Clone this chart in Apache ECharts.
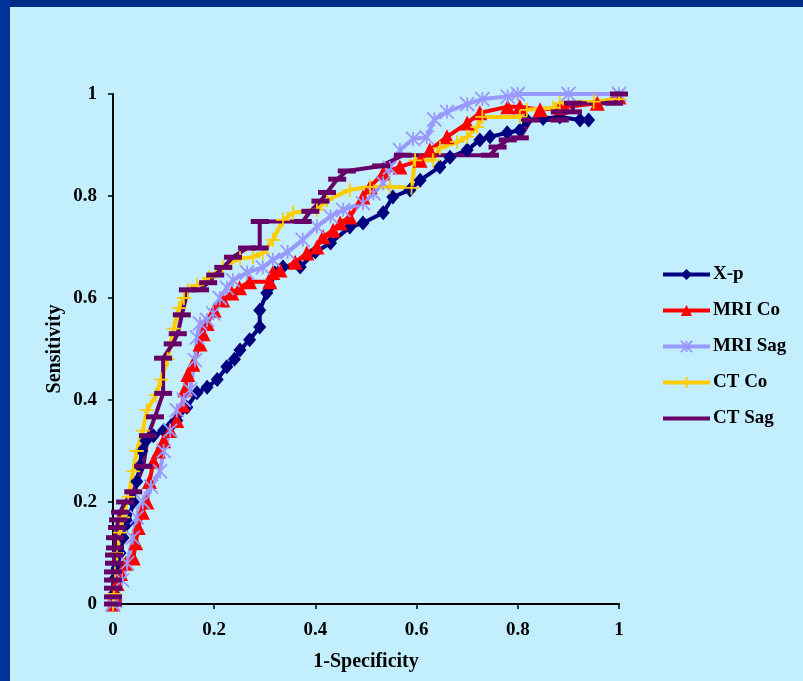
<!DOCTYPE html>
<html><head><meta charset="utf-8">
<script src="https://cdn.jsdelivr.net/npm/echarts@6/dist/echarts.min.js"></script>
<style>html,body{margin:0;padding:0;background:#C3EEFD}#c{width:803px;height:681px}</style>
</head><body><div id="c"></div>
<script>
const seriesNames = ['X-p', 'MRI Co', 'MRI Sag', 'CT Co', 'CT Sag'];
const axisTicks = [0, 0.2, 0.4, 0.6, 0.8, 1];

const xpData = [[0,0],[0.002,0.02],[0.004,0.05],[0.008,0.07],[0.014,0.1],[0.02,0.13],[0.03,0.16],[0.04,0.2],[0.047,0.24],[0.053,0.27],[0.057,0.3],[0.065,0.32],[0.08,0.33],[0.1,0.34],[0.115,0.35],[0.126,0.36],[0.146,0.386],[0.166,0.414],[0.186,0.425],[0.206,0.44],[0.225,0.465],[0.24,0.48],[0.251,0.498],[0.27,0.518],[0.29,0.543],[0.29,0.576],[0.304,0.61],[0.31,0.622],[0.32,0.649],[0.336,0.661],[0.37,0.661],[0.4,0.69],[0.43,0.708],[0.468,0.739],[0.494,0.747],[0.534,0.767],[0.553,0.798],[0.587,0.812],[0.607,0.831],[0.646,0.857],[0.666,0.876],[0.7,0.89],[0.725,0.91],[0.745,0.916],[0.779,0.924],[0.804,0.929],[0.818,0.949],[0.85,0.952],[0.883,0.955],[0.923,0.949],[0.94,0.949]];

const mriCoData = [[0,0],[0.004,0.02],[0.008,0.04],[0.015,0.06],[0.025,0.08],[0.04,0.09],[0.045,0.12],[0.05,0.15],[0.058,0.18],[0.067,0.2],[0.072,0.24],[0.08,0.28],[0.09,0.3],[0.1,0.32],[0.113,0.34],[0.126,0.36],[0.138,0.39],[0.142,0.42],[0.148,0.45],[0.158,0.47],[0.172,0.51],[0.178,0.53],[0.186,0.55],[0.2,0.576],[0.217,0.596],[0.235,0.61],[0.25,0.62],[0.27,0.632],[0.31,0.632],[0.316,0.65],[0.33,0.655],[0.36,0.67],[0.383,0.688],[0.403,0.7],[0.415,0.72],[0.435,0.733],[0.449,0.747],[0.468,0.759],[0.494,0.798],[0.508,0.818],[0.534,0.845],[0.567,0.857],[0.607,0.87],[0.626,0.89],[0.66,0.916],[0.7,0.943],[0.725,0.963],[0.78,0.975],[0.804,0.975],[0.844,0.969],[0.883,0.973],[0.957,0.982],[1,0.994]];

const mriSagData = [[0,0],[0.004,0.006],[0.018,0.047],[0.028,0.08],[0.039,0.13],[0.047,0.17],[0.059,0.2],[0.075,0.23],[0.093,0.26],[0.1,0.3],[0.113,0.34],[0.126,0.38],[0.14,0.4],[0.152,0.42],[0.162,0.478],[0.166,0.523],[0.172,0.55],[0.186,0.557],[0.198,0.57],[0.211,0.6],[0.225,0.62],[0.237,0.635],[0.265,0.65],[0.296,0.66],[0.316,0.675],[0.345,0.69],[0.375,0.714],[0.403,0.74],[0.43,0.76],[0.455,0.773],[0.494,0.786],[0.515,0.805],[0.534,0.825],[0.547,0.855],[0.567,0.89],[0.593,0.912],[0.62,0.915],[0.635,0.95],[0.66,0.965],[0.7,0.98],[0.73,0.99],[0.78,0.995],[0.8,1],[0.9,1],[1,1]];

const ctCoData = [[0,0],[0.002,0.02],[0.004,0.06],[0.008,0.1],[0.014,0.14],[0.02,0.17],[0.03,0.21],[0.04,0.26],[0.047,0.3],[0.059,0.34],[0.067,0.38],[0.085,0.41],[0.095,0.44],[0.108,0.48],[0.12,0.54],[0.13,0.58],[0.14,0.6],[0.148,0.615],[0.166,0.625],[0.19,0.64],[0.217,0.661],[0.251,0.678],[0.277,0.68],[0.296,0.688],[0.316,0.714],[0.336,0.753],[0.356,0.767],[0.403,0.773],[0.423,0.792],[0.468,0.812],[0.508,0.818],[0.547,0.818],[0.59,0.816],[0.597,0.87],[0.632,0.87],[0.646,0.894],[0.68,0.906],[0.7,0.916],[0.72,0.935],[0.73,0.955],[0.804,0.955],[0.818,0.969],[0.87,0.973],[0.883,0.982],[0.95,0.985],[1,0.99]];

const ctSagData = [[0,0],[0,0.014],[0,0.031],[0,0.047],[0,0.063],[0.002,0.08],[0.002,0.096],[0.004,0.11],[0.004,0.13],[0.008,0.15],[0.01,0.165],[0.014,0.18],[0.024,0.2],[0.04,0.22],[0.06,0.27],[0.069,0.33],[0.083,0.367],[0.099,0.413],[0.099,0.482],[0.118,0.51],[0.128,0.53],[0.136,0.567],[0.148,0.616],[0.172,0.616],[0.188,0.63],[0.202,0.645],[0.218,0.66],[0.237,0.68],[0.265,0.698],[0.29,0.698],[0.29,0.75],[0.375,0.75],[0.39,0.77],[0.41,0.79],[0.423,0.807],[0.443,0.833],[0.462,0.849],[0.53,0.859],[0.573,0.88],[0.745,0.88],[0.76,0.896],[0.78,0.91],[0.804,0.914],[0.826,0.949],[0.883,0.949],[0.883,0.965],[0.909,0.965],[0.909,0.982],[0.99,0.982],[1,1]];

const FONT = '"Liberation Serif", "DejaVu Serif", serif';
const chart = echarts.init(document.getElementById('c'), null, {renderer: 'canvas'});

function mk(name, data, color, symbol, size, extra) {
  return Object.assign({
    name: name, type: 'line', data: data, clip: false,
    symbol: symbol, symbolSize: size,
    lineStyle: {color: color, width: 4},
    itemStyle: {color: color},
    emphasis: {disabled: true},
    animation: false
  }, extra || {});
}

const option = {
  backgroundColor: '#C3EEFD',
  animation: false,
  graphic: [
    {type: 'rect', left: 0, top: 0, shape: {width: 803, height: 7}, style: {fill: '#012E85'}, z: 100},
    {type: 'rect', left: 0, top: 0, shape: {width: 10, height: 681}, style: {fill: '#003399'}, z: 100}
  ],
  grid: {left: 113, right: 184, top: 94, bottom: 77, containLabel: false},
  legend: {
    orient: 'vertical', left: 656, top: 260,
    itemWidth: 47, itemHeight: 14, itemGap: 17,
    lineStyle: {width: 4},
    textStyle: {fontFamily: FONT, fontWeight: 'bold', fontSize: 19, color: '#000', padding: [0, 0, 0, -2]},
    data: [seriesNames[0], seriesNames[1], seriesNames[2], seriesNames[3],
      {name: seriesNames[4], itemStyle: {opacity: 0}}]
  },
  xAxis: {
    type: 'value', min: 0, max: 1, interval: 0.2,
    name: '1-Specificity', nameLocation: 'middle', nameGap: 48,
    nameTextStyle: {fontFamily: FONT, fontWeight: 'bold', fontSize: 20, color: '#000'},
    axisLine: {show: true, lineStyle: {color: '#000', width: 2}},
    axisTick: {show: true, length: 5, lineStyle: {color: '#000', width: 1.5}},
    axisLabel: {fontFamily: FONT, fontWeight: 'bold', fontSize: 19, color: '#000', margin: 17,
      formatter: v => String(v)},
    splitLine: {show: false}
  },
  yAxis: {
    type: 'value', min: 0, max: 1, interval: 0.2,
    name: 'Sensitivity', nameLocation: 'middle', nameGap: 48, nameRotate: 90,
    nameMoveOverlap: false,
    nameTextStyle: {fontFamily: FONT, fontWeight: 'bold', fontSize: 20, color: '#000'},
    axisLine: {show: true, lineStyle: {color: '#000', width: 2}},
    axisTick: {show: true, length: 5, lineStyle: {color: '#000', width: 1.5}},
    axisLabel: {fontFamily: FONT, fontWeight: 'bold', fontSize: 19, color: '#000', margin: 16,
      formatter: v => String(v)},
    splitLine: {show: false}
  },
  series: [
    mk(seriesNames[0], xpData, '#000080', 'diamond', [13, 15]),
    mk(seriesNames[1], mriCoData, '#FF0000', 'triangle', 15),
    mk(seriesNames[2], mriSagData, '#9999FF', 'path://M5,0L5,10M0,0L10,10M10,0L0,10', 14,
      {itemStyle: {color: '#9999FF', borderColor: '#9999FF', borderWidth: 1.8}}),
    mk(seriesNames[3], ctCoData, '#FFCC00', 'path://M5,0L5,10M0,5L10,5', 14,
      {itemStyle: {color: '#FFCC00', borderColor: '#FFCC00', borderWidth: 1.8}}),
    mk(seriesNames[4], ctSagData, '#660066', 'rect', [18, 5])
  ]
};
chart.setOption(option);
</script>
</body></html>
